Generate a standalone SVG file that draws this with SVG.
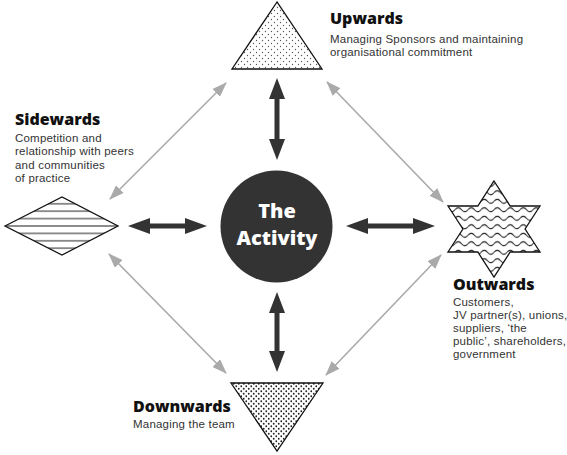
<svg xmlns="http://www.w3.org/2000/svg" width="567" height="455" viewBox="0 0 567 455">
<style>
.h{font-family:"Open Sans","Liberation Sans",sans-serif;font-weight:800;font-size:16px;fill:#111}
.b{font-family:"Liberation Sans",Arial,sans-serif;font-size:11.5px;letter-spacing:0.2px;fill:#333}
.c{font-family:"Open Sans","Liberation Sans",sans-serif;font-weight:800;font-size:20px;fill:#fff;text-anchor:middle}
.grey{stroke:#aaa;stroke-width:1.6;fill:none;marker-start:url(#ga);marker-end:url(#ga)}
.dark{fill:#333}
.shape{stroke:#111;stroke-width:1.3}
</style>
<defs>
<marker id="ga" viewBox="0 0 15 11" refX="14" refY="5.5" markerWidth="15" markerHeight="11" markerUnits="userSpaceOnUse" orient="auto-start-reverse">
<path d="M0,0 L15,5.5 L0,11 z" fill="#aaa"/>
</marker>
<pattern id="dotsLight" patternUnits="userSpaceOnUse" width="6" height="6">
<rect width="6" height="6" fill="#fff"/>
<circle cx="1.5" cy="1.5" r="0.65" fill="#555"/>
<circle cx="4.5" cy="4.5" r="0.65" fill="#555"/>
</pattern>
<pattern id="dotsDark" patternUnits="userSpaceOnUse" width="5" height="5">
<rect width="5" height="5" fill="#fff"/>
<circle cx="1.25" cy="1.25" r="0.9" fill="#222"/>
<circle cx="3.75" cy="3.75" r="0.9" fill="#222"/>
</pattern>
<pattern id="stripes" patternUnits="userSpaceOnUse" x="0" y="222.3" width="10" height="7.4">
<rect width="10" height="7.4" fill="#fff"/>
<line x1="0" y1="3.7" x2="10" y2="3.7" stroke="#222" stroke-width="1"/>
</pattern>
<pattern id="waves" patternUnits="userSpaceOnUse" x="0" y="180" width="13" height="8.5">
<rect width="13" height="8.5" fill="#fff"/>
<path d="M0,4.25 Q3.25,0.25 6.5,4.25 T13,4.25" fill="none" stroke="#111" stroke-width="1"/>
</pattern>
</defs>
<rect width="567" height="455" fill="#fff"/>

<g id="connectors">
<line class="grey" x1="226" y1="83" x2="110" y2="199"/>
<line class="grey" x1="327" y1="82" x2="443" y2="202"/>
<line class="grey" x1="109" y1="254" x2="226" y2="373"/>
<line class="grey" x1="441" y1="255" x2="326" y2="375"/>
<polygon class="dark" points="128,226 150,218 150,223.5 185,223.5 185,218 207,226 185,234 185,228.5 150,228.5 150,234"/>
<polygon class="dark" points="346,226 368,218 368,223.5 413,223.5 413,218 435,226 413,234 413,228.5 368,228.5 368,234"/>
<polygon class="dark" points="277,78 285,99 279.5,99 279.5,139 285,139 277,160 269,139 274.5,139 274.5,99 269,99"/>
<polygon class="dark" points="277,292 285,313 279.5,313 279.5,351 285,351 277,372 269,351 274.5,351 274.5,313 269,313"/>
</g>

<g id="activity">
<circle cx="276.5" cy="226.5" r="56" fill="#333"/>
<text class="c" x="277" y="217.5">The</text>
<text class="c" x="277" y="245">Activity</text>
</g>

<g id="upwards">
<polygon class="shape" points="277,2 232,69 322,69" fill="url(#dotsLight)"/>
<text class="h" x="330" y="24">Upwards</text>
<text class="b" x="330" y="42.5">Managing Sponsors and maintaining</text>
<text class="b" x="330" y="55.5">organisational commitment</text>
</g>

<g id="sidewards">
<polygon class="shape" points="5,226 62,197 118,226 62,255" fill="url(#stripes)"/>
<text class="h" x="15" y="125">Sidewards</text>
<text class="b" x="15" y="142">Competition and</text>
<text class="b" x="15" y="155.3">relationship with peers</text>
<text class="b" x="15" y="168.6">and communities</text>
<text class="b" x="15" y="182">of practice</text>
</g>

<g id="outwards">
<polygon class="shape" points="494,181 510.2,206 540,206 525.1,229 540,252 510.2,252 494,277 477.8,252 448,252 462.9,229 448,206 477.8,206" fill="url(#waves)"/>
<text class="h" x="453" y="290">Outwards</text>
<text class="b" x="453" y="305.5">Customers,</text>
<text class="b" x="453" y="318.7">JV partner(s), unions,</text>
<text class="b" x="453" y="331.9">suppliers, ‘the</text>
<text class="b" x="453" y="345.1">public’, shareholders,</text>
<text class="b" x="453" y="358.3">government</text>
</g>

<g id="downwards">
<polygon class="shape" points="231,383 323,383 277,451" fill="url(#dotsDark)"/>
<text class="h" x="133" y="412">Downwards</text>
<text class="b" x="133" y="427.5">Managing the team</text>
</g>
</svg>
